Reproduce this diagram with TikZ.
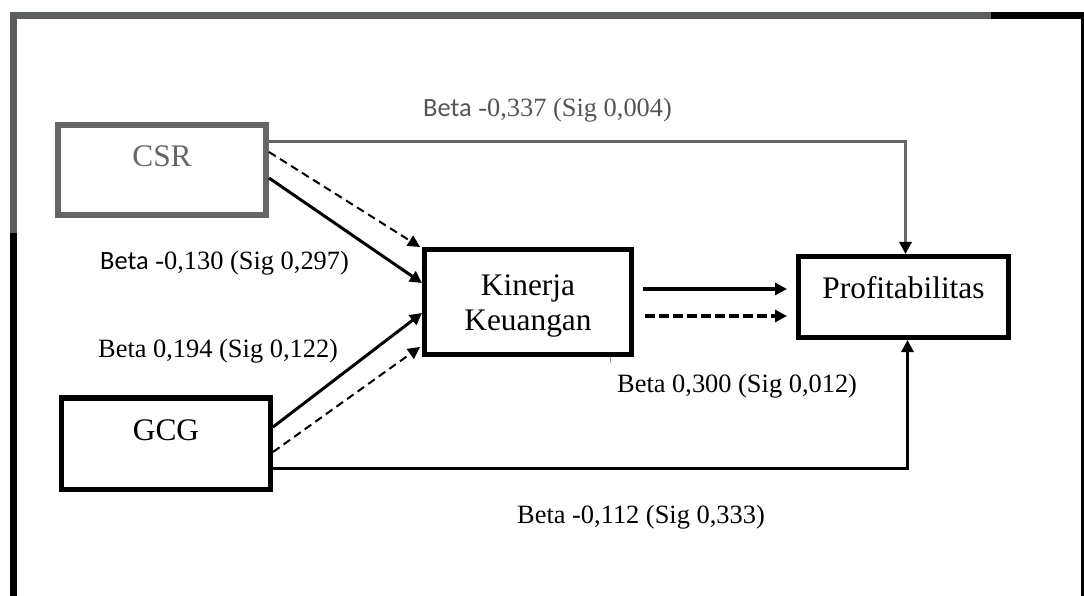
\documentclass[tikz,border=0pt]{standalone}
\usepackage{fontspec}
\setmainfont{Liberation Serif}
\newfontfamily\calibrifont{Carlito}
\usetikzlibrary{arrows.meta,calc}
\definecolor{framegray}{HTML}{5A5F5C}
\definecolor{boxgray}{HTML}{666666}
\definecolor{labelgray}{HTML}{555555}
\tikzset{
  box/.style={draw, rectangle, inner sep=0pt},
  boxtext/.style={font=\fontsize{31.5}{35}\selectfont, inner sep=0pt, anchor=base},
  lbl/.style={font=\fontsize{26.5}{30}\selectfont, inner sep=0pt, anchor=base west},
  tip/.style={-{Triangle[length=12bp,width=12bp,color=black]}},
  solidconn/.style={tip, line width=3bp},
  dashconn/.style={tip, line width=2bp, dash pattern=on 8bp off 5bp},
  thickconn/.style={tip, line width=4bp},
  thickdash/.style={tip, line width=4bp, dash pattern=on 10bp off 4bp}
}
\begin{document}
\begin{tikzpicture}[x=1bp,y=-1bp]
\useasboundingbox (0,0) rectangle (1084,596);
\fill[white] (0,0) rectangle (1084,596);
% frame
\draw[line width=7bp, framegray] (10,15.5) -- (991,15.5);
\draw[line width=7bp, black] (991,15.5) -- (1084,15.5);
\draw[line width=7bp, framegray] (13.5,12) -- (13.5,233);
\draw[line width=7bp, black] (13.5,233) -- (13.5,596);
\draw[line width=3bp, black] (1082.5,12) -- (1082.5,596);
% boxes
\node[box, draw=boxgray, line width=6bp, minimum width=208bp, minimum height=90bp] (csr) at (162,170) {};
\node[boxtext, text=boxgray] (csrtext) at (162,167) {CSR};
\node[box, line width=5bp, minimum width=207bp, minimum height=105bp] (kin) at (528,302) {};
\node[font=\fontsize{31.5}{35}\selectfont, align=center, inner sep=0pt] (kintext) at (528,306) {Kinerja\\Keuangan};
\node[box, line width=5bp, minimum width=210bp, minimum height=81bp] (prof) at (903.5,297) {};
\node[boxtext] (proftext) at (903.5,299) {Profitabilitas};
\node[box, line width=5.5bp, minimum width=208.5bp, minimum height=91.5bp] (gcg) at (166,443.5) {};
\node[boxtext] (gcgtext) at (166,440) {GCG};
% connectors
\draw[solidconn, boxgray] ([yshift=28bp]csr.east) -| ([xshift=2bp]prof.north);
\draw[solidconn] ([yshift=-8bp]csr.east) -- ([yshift=19bp]kin.west);
\draw[dashconn] ([yshift=18bp]csr.east) -- ([xshift=-2bp]kin.north west);
\draw[solidconn] ([yshift=16.5bp]gcg.east) -- ([yshift=-11bp]kin.west);
\draw[dashconn] ([yshift=-8.5bp]gcg.east) -- ([xshift=-2bp,yshift=10bp]kin.south west);
\draw[solidconn] ([yshift=-24.5bp]gcg.east) -| ([xshift=4bp]prof.south);
\coordinate (k1) at ([xshift=9bp,yshift=13bp]kin.east);
\coordinate (k2) at ([xshift=11bp,yshift=-14bp]kin.east);
\coordinate (p1) at ([xshift=-9bp]prof.west);
\draw[thickconn] (k1) -- (k1 -| p1);
\draw[thickdash] (k2) -- (k2 -| p1);
\draw[line width=0.8bp, gray] ([xshift=82bp]kin.south) -- ++(1,6);
% labels
\node[lbl, text=labelgray] (l1) at (423,117) {{\calibrifont Beta} -0,337 (Sig 0,004)};
\node[lbl] (l2) at (100,270) {{\calibrifont Beta} -0,130 (Sig 0,297)};
\node[lbl] (l3) at (98,357) {Beta 0,194 (Sig 0,122)};
\node[lbl] (l4) at (617,392) {Beta 0,300 (Sig 0,012)};
\node[lbl] (l5) at (517,523) {Beta -0,112 (Sig 0,333)};
\end{tikzpicture}
\end{document}
